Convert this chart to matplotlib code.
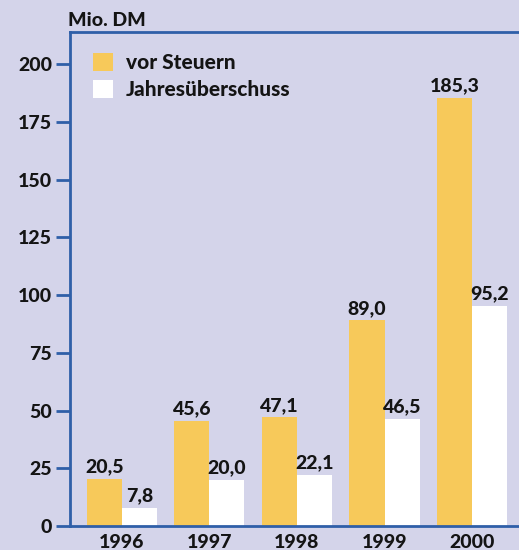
import matplotlib
matplotlib.use("Agg")
import matplotlib.pyplot as plt
from matplotlib.patches import Patch
import numpy as np

years = ["1996", "1997", "1998", "1999", "2000"]
vor_steuern = [20.5, 45.6, 47.1, 89.0, 185.3]
jahresueberschuss = [7.8, 20.0, 22.1, 46.5, 95.2]
labels_vor = ["20,5", "45,6", "47,1", "89,0", "185,3"]
labels_jahr = ["7,8", "20,0", "22,1", "46,5", "95,2"]
yticks = [0, 25, 50, 75, 100, 125, 150, 175, 200]

BG = "#d4d4ea"
YEL = "#f7c95a"
BLUE = "#2f5fa8"
TXT = "#141414"
FONT = ["Lato", "DejaVu Sans"]
FS = 14
WT = "black"

plt.rcParams['font.family'] = FONT
fig = plt.figure(figsize=(5.19, 5.5), dpi=100)
fig.patch.set_facecolor(BG)
ax = fig.add_axes([70/519, 24/550, 1 - 70/519, 494/550])
ax.set_facecolor(BG)

x = np.arange(len(years))
w = 0.4
ax.bar(x - w/2, vor_steuern, w, color=YEL, zorder=2)
ax.bar(x + w/2, jahresueberschuss, w, color="white", zorder=2)

for xi, v, l in zip(x, vor_steuern, labels_vor):
    ax.text(xi - w/2, v + 1.5, l, ha="center", va="bottom", fontsize=FS,
            fontweight=WT, color=TXT)
for xi, v, l in zip(x, jahresueberschuss, labels_jahr):
    ax.text(xi + w/2, v + 1.5, l, ha="center", va="bottom", fontsize=FS,
            fontweight=WT, color=TXT)

ax.set_xlim(-0.594, 4.537)
ax.set_ylim(0, 213.9)
ax.set_yticks(yticks)
ax.set_yticklabels([str(t) for t in yticks], fontsize=FS, fontweight=WT, color=TXT)
ax.set_xticks(x)
ax.set_xticklabels(years, fontsize=FS, fontweight=WT, color=TXT)
ax.tick_params(axis="y", direction="out", length=10, width=2, color=BLUE, pad=3)
ax.tick_params(axis="x", length=0, pad=6)

for s in ["left", "top", "bottom"]:
    ax.spines[s].set_color(BLUE)
    ax.spines[s].set_linewidth(2)
ax.spines["right"].set_visible(False)

fig.text(68/519, 1 - 20/550, "Mio. DM", ha="left", va="center", fontsize=FS,
         fontweight=WT, color=TXT)

handles = [Patch(facecolor=YEL, edgecolor="none", label="vor Steuern"),
           Patch(facecolor="white", edgecolor="none", label="Jahresüberschuss")]
leg = ax.legend(handles=handles, loc="upper left", bbox_to_anchor=(0.051, 0.957),
                frameon=False, borderpad=0, borderaxespad=0,
                handlelength=0.95, handleheight=0.95,
                handletextpad=0.65, labelspacing=0.35,
                prop={"family": FONT, "weight": WT, "size": 15})
for t in leg.get_texts():
    t.set_color(TXT)

fig.savefig("out.png", dpi=100, facecolor=BG)
